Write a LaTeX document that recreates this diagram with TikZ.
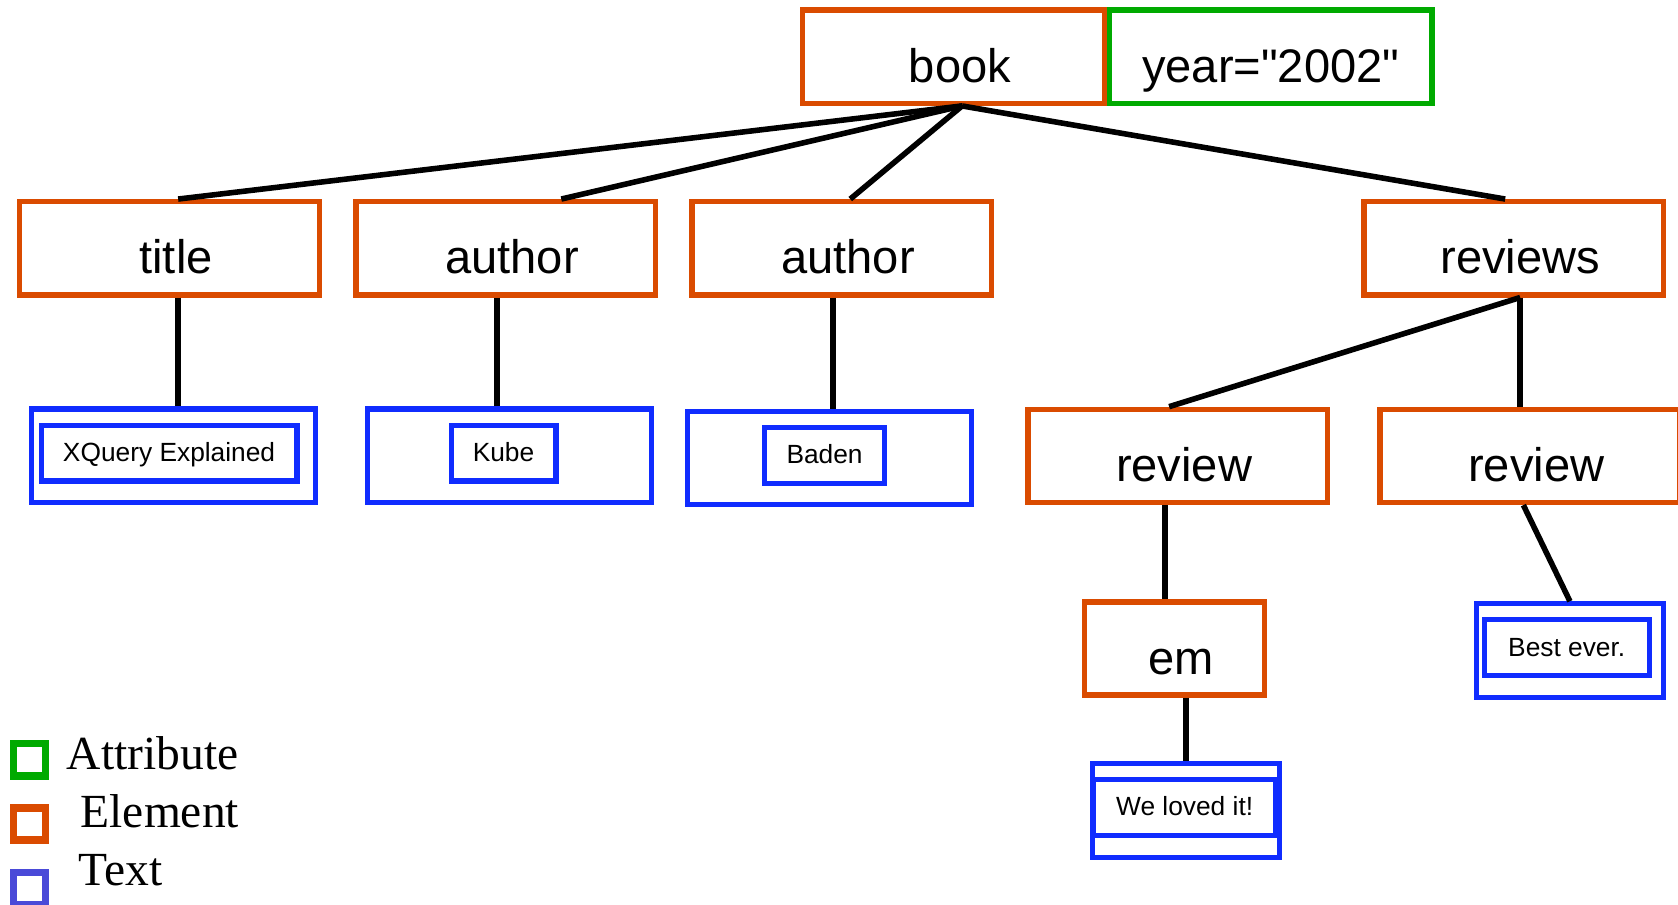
\documentclass[tikz,border=0pt]{standalone}
\usepackage{fontspec}
\setmainfont{Liberation Sans}[Ligatures=TeXOff]
\newfontfamily\legendfont{Liberation Serif}
\usepackage{tikz}
\usetikzlibrary{positioning}
\definecolor{elemc}{RGB}{218,75,0}
\definecolor{attrc}{RGB}{0,170,0}
\definecolor{textc}{RGB}{16,44,255}
\definecolor{keyblue}{RGB}{74,74,216}

\begin{document}
\begin{tikzpicture}[x=0.5pt,y=-0.5pt,
  box/.style={draw,line width=2.5pt,inner sep=0pt,font=\fontsize{22}{26}\selectfont,text height=25pt,text depth=1pt},
  elem/.style={box,draw=elemc,minimum width=140pt,minimum height=43.5pt,execute at begin node=\hspace*{6pt}},
  attr/.style={box,draw=attrc,minimum width=150.5pt,minimum height=43.5pt},
  txtout/.style={draw=textc,line width=2.4pt,inner sep=0pt,minimum height=43.75pt},
  txtin/.style={draw=textc,line width=2.4pt,inner sep=0pt,minimum height=26pt,font=\fontsize{12.3}{14}\selectfont,text height=9pt,text depth=1pt},
  link/.style={line width=2.6pt},
  keybox/.style={line width=3.4pt,minimum size=15pt,inner sep=0pt},
  keylabel/.style={anchor=base west,inner sep=0pt,font=\legendfont\fontsize{22.2}{25}\selectfont}]
  \useasboundingbox (0,0) rectangle (1568,845);
  % book and its attribute
  \node[elem,minimum width=141pt] (book) at (891,53) {book};
  \node[attr,right=0pt of book] (year) {year="2002"};
  % elements
  \node[elem] (title) at (158.5,232) {title};
  \node[elem] (auth1) at (472.5,232) {author};
  \node[elem] (auth2) at (786.5,232) {author};
  \node[elem] (revs) at (1414.5,232) {reviews};
  \node[elem] (rev1) at (1100.5,426) {review};
  \node[elem] (rev2) at (1429.5,426) {review};
  \node[elem,minimum width=84pt] (em) at (1097.5,606) {em};
  % text nodes
  \node[txtout,minimum width=132.5pt] (xqout) at (162,426) {};
  \node[txtin,minimum width=119.5pt] (xq) at (158,423.5) {XQuery Explained};
  \node[txtout,minimum width=132.5pt] (kubeout) at (476,426) {};
  \node[txtin,minimum width=49pt] (kube) at (470.5,423.5) {Kube};
  \node[txtout,minimum width=132.5pt] (badenout) at (775,428) {};
  \node[txtin,minimum width=56pt] (baden) at (770.5,425.5) {Baden};
  \node[txtout,minimum width=87.5pt] (bestout) at (1467,608) {};
  \node[txtin,minimum width=77pt] (best) at (1464,605) {Best ever.};
  \node[txtout,minimum width=87.5pt,minimum height=44pt] (lovedout) at (1108,757.5) {};
  \node[txtin,minimum width=85pt] (loved) at (1107,754.5) {We loved it!};
  % edges
  \draw[link] ([xshift=4pt]book.south) -- ([xshift=4pt]title.north);
  \draw[link] ([xshift=4pt]book.south) -- ([xshift=26pt]auth1.north);
  \draw[link] ([xshift=4pt]book.south) -- ([xshift=4pt]auth2.north);
  \draw[link] ([xshift=4pt]book.south) -- ([xshift=-4pt]revs.north);
  \draw[link] ([xshift=4pt]title.south) -- ([xshift=4pt]title.south |- xqout.north);
  \draw[link] ([xshift=-4pt]auth1.south) -- ([xshift=-4pt]auth1.south |- kubeout.north);
  \draw[link] ([xshift=-4pt]auth2.south) -- ([xshift=-4pt]auth2.south |- badenout.north);
  \draw[link] ([xshift=3pt]revs.south) -- ([xshift=-4pt]rev1.north);
  \draw[link] ([xshift=3pt]revs.south) -- ([xshift=3pt]revs.south |- rev2.north);
  \draw[link] ([xshift=-6pt]rev1.south) -- ([xshift=-6pt]rev1.south |- em.north);
  \draw[link] ([xshift=-3pt]rev2.south) -- (bestout.north);
  \draw[link] (em.south -| lovedout.north) -- (lovedout.north);
  % key
  \node[keybox,draw=attrc] (keyattr) at (27.4,710) {};
  \node[keybox,draw=elemc] (keyelem) at (27.4,770) {};
  \node[keybox,draw=keyblue] (keytext) at (27.4,830) {};
  \node[keylabel] (lblattr) at (62,719.5) {Attribute};
  \node[keylabel] (lblelem) at (75,773) {Element};
  \node[keylabel] (lbltext) at (73,827) {Text};
\end{tikzpicture}
\end{document}
